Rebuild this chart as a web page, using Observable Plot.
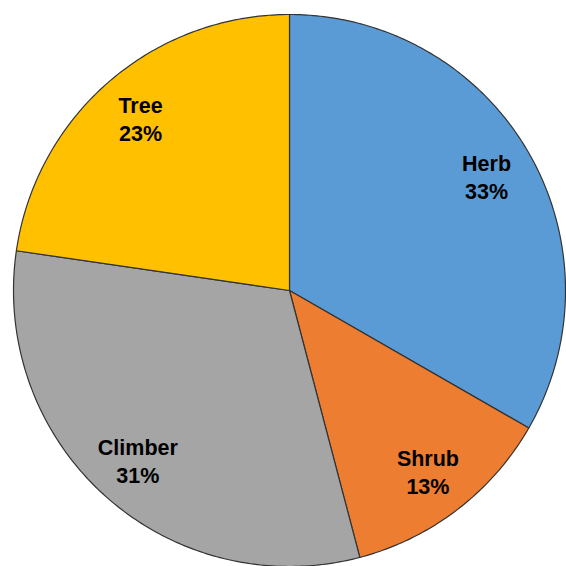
<!DOCTYPE html>
<html>
<head>
<meta charset="utf-8">
<script src="https://cdn.jsdelivr.net/npm/d3@7"></script>
<script src="https://cdn.jsdelivr.net/npm/@observablehq/plot@0.6"></script>
<style>
  html, body { margin: 0; padding: 0; background: #fff; }
  #chart svg { display: block; }
</style>
</head>
<body>
<div id="chart"></div>
<script>
const categories = ["Herb", "Shrub", "Climber", "Tree"];
const values = [33.3, 12.6, 31.4, 22.7];
const labels = ["33%", "13%", "31%", "23%"];
const colors = ["#5B9BD5", "#ED7D31", "#A5A5A5", "#FFC000"];

const W = 566, H = 566;
const cx = 289, cy = 290, R = 276;

const pie = d3.pie().sort(null).value(d => d.value)(
  categories.map((c, i) => ({ name: c, value: values[i], label: labels[i], color: colors[i] }))
);

// polygon vertices in unit coordinates (angle from 12 o'clock, clockwise; y up)
const pts = [];
for (const s of pie) {
  pts.push({ name: s.data.name, x: 0, y: 0 });
  const n = Math.max(8, Math.ceil((s.endAngle - s.startAngle) * 80));
  for (let k = 0; k <= n; k++) {
    const a = s.startAngle + (s.endAngle - s.startAngle) * k / n;
    pts.push({ name: s.data.name, x: Math.sin(a), y: Math.cos(a) });
  }
  pts.push({ name: s.data.name, x: 0, y: 0 });
}
const labelPts = pie.map(s => {
  const a = (s.startAngle + s.endAngle) / 2;
  return { text: s.data.name + "\n" + s.data.label, x: 0.825 * Math.sin(a), y: 0.825 * Math.cos(a) };
});

const chart = Plot.plot({
  width: W, height: H,
  margin: 0,
  x: { domain: [-cx / R, (W - cx) / R], axis: null },
  y: { domain: [-(H - cy) / R, cy / R], axis: null },
  color: { domain: categories, range: colors },
  marks: [
    Plot.line(pts, { x: "x", y: "y", z: "name", fill: "name", stroke: "#333333", strokeWidth: 1.2, strokeLinejoin: "round", curve: "linear" }),
    Plot.text(labelPts, {
      x: "x", y: "y", text: "text", dy: 0,
      fontFamily: "Liberation Sans, Arial, sans-serif",
      fontWeight: "bold", fontSize: 21.5, fill: "#000", lineHeight: 1.3
    })
  ]
});
document.getElementById("chart").appendChild(chart);
</script>
</body>
</html>
